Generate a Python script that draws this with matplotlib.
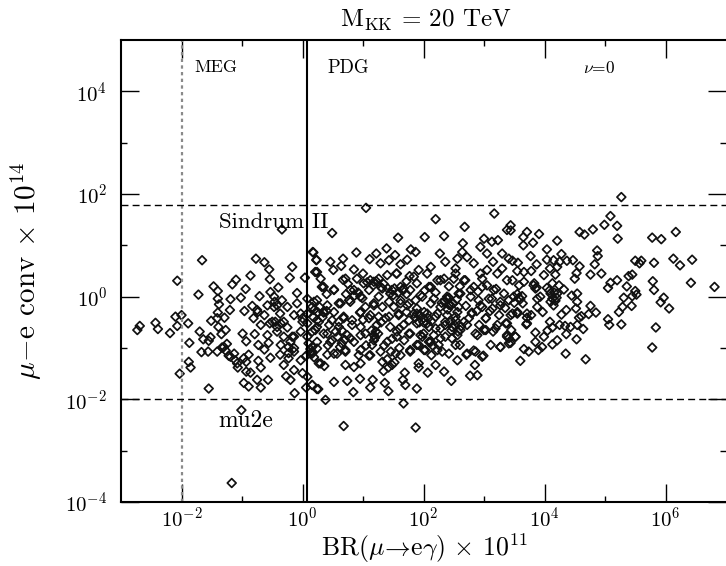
import numpy as np
import matplotlib
matplotlib.use('Agg')
import matplotlib.pyplot as plt
from matplotlib.ticker import FixedLocator, LogFormatterMathtext, NullFormatter

plt.rcParams['font.family'] = ['cmr10', 'DejaVu Serif']
plt.rcParams['mathtext.fontset'] = 'cm'
plt.rcParams['axes.formatter.use_mathtext'] = True
plt.rcParams['axes.unicode_minus'] = False

# (log10 BR, log10 conv)
left_points = [
(-2.73,-0.65),(-2.69,-0.57),(-2.43,-0.51),(-2.39,-0.63),(-2.19,-0.71),(-2.10,-0.39),(-2.07,-0.57),(-2.0,-0.36),
(-1.89,-0.52),(-2.07,0.31),(-1.66,0.71),(-1.72,0.04),(-1.70,-0.68),(-1.87,-0.90),(-2.03,-1.50),(-1.88,-1.27),
(-1.85,-1.38),(-1.55,-1.79),(-1.67,-1.08),(-1.56,-1.07),(-1.41,-1.07),(-1.64,-0.83),(-1.52,-0.79),(-1.55,-0.86),
(-1.51,-0.47),(-1.40,-0.31),(-1.41,-0.42),(-1.29,-0.41),(-1.39,-0.59),(-1.27,-0.65),(-1.34,-0.73),(-1.20,-0.26),
(-1.19,-0.05),(-1.38,-0.15),(-1.40,-0.04),(-1.40,0.11),(-1.47,0.20),(-1.16,0.24),(-1.10,0.33),(-0.94,0.15),
(-0.86,0.41),(-1.02,-0.02),(-0.96,-0.28),(-0.83,-0.18),(-0.71,0.01),(-0.77,0.74),(-0.63,0.67),(-0.55,0.53),
(-0.54,0.34),(-0.40,0.18),(-0.53,0.09),(-0.34,1.31),(-0.17,0.58),(-0.21,0.37),(0.04,0.37),(0.17,0.87),
(0.23,0.72),(0.24,0.48),(-0.09,0.07),(-1.25,-0.92),(-1.33,-0.99),(-1.27,-1.05),(-1.22,-1.15),(-1.13,-1.11),
(-1.11,-1.24),(-1.07,-1.38),(-0.93,-1.27),(-0.89,-1.13),(-0.93,-1.46),(-0.86,-1.48),(-0.97,-1.68),(-0.89,-1.75),
(-0.75,-1.62),(-0.69,-1.77),(-0.57,-1.62),(-0.69,-1.38),(-0.73,-1.25),(-0.53,-1.19),(-0.63,-1.03),(-0.99,-0.72),
(-0.93,-0.87),(-0.79,-0.73),(-0.73,-0.94),(-0.56,-0.90),(-0.58,-0.75),(-0.69,-0.55),(-0.81,-0.42),(-0.74,-0.30),
(-0.63,-0.36),(-0.54,-0.52),(-0.45,-0.49),(-0.47,-0.20),(-0.34,-0.07),(-0.46,-0.10),(-0.25,-0.20),(-0.37,-0.33),
(-0.14,-0.36),(0.0,-0.42),(0.08,-0.33),(-0.09,-0.13),(0.08,-0.04),(0.16,-0.20),(0.24,-0.46),(-0.36,-0.52),
(-0.25,-0.60),(-0.42,-0.68),(-0.31,-0.78),(-0.17,-0.78),(-0.03,-0.68),(0.08,-0.78),(0.21,-0.65),(-0.36,-0.94),
(-0.23,-0.98),(-0.14,-1.07),(-0.37,-1.13),(-0.23,-1.20),(-0.03,-1.24),(-0.31,-1.33),(-0.14,-1.43),(-0.27,-1.55),
(-0.20,-1.62),(0.0,-1.49),(0.16,-1.07),(0.10,-0.91),(0.27,-1.30),(0.08,-1.56),(0.16,-1.72),(0.24,-1.80),
(0.06,-1.77),(-0.13,-1.88),(-1.01,-2.21),(-1.17,-3.63),
]

mid_points = [
(0.68,-2.52),(1.87,-2.55),(1.05,1.73),(2.2,1.51),(3.17,1.62),(2.68,1.36),(0.49,1.24),(1.58,1.15),
(2.02,1.16),(2.34,1.18),(2.65,1.04),(3.0,1.13),(3.13,1.07),(3.23,1.10),(3.38,1.30),(0.18,0.86),
(0.23,0.71),(0.46,0.68),(0.67,0.74),(0.89,0.86),(0.51,0.52),(0.64,0.60),(0.21,0.48),(0.30,0.35),
(0.35,0.19),(0.52,0.14),(0.67,0.33),(0.85,0.53),(0.90,0.35),(1.22,0.84),(1.39,0.94),(1.11,0.73),
(1.29,0.65),(1.43,0.71),(1.53,0.81),(1.79,0.92),(1.87,0.87),(1.73,0.72),(1.62,0.63),(1.92,0.52),
(2.12,0.58),(2.27,0.84),(2.36,0.68),(2.56,0.74),(2.64,0.87),(2.72,0.77),(2.83,0.65),(2.53,0.55),
(3.05,0.84),(2.94,0.97),(3.30,0.84),(3.41,0.74),(3.15,0.68),(3.30,0.55),(3.22,0.45),(3.05,0.52),
(2.94,0.45),(3.38,0.32),(1.12,0.32),(1.26,0.35),(1.41,0.16),(1.55,0.45),(1.77,0.40),(1.62,0.19),
(1.78,0.13),(1.89,0.26),(2.09,0.19),(2.23,0.32),(2.34,0.35),(2.50,0.35),(2.69,0.32),(2.83,0.19),
(2.97,0.35),(3.16,0.13),(3.05,0.22),(3.33,0.06),(0.79,0.13),(0.96,0.0),(1.10,0.13),(1.26,0.0),
(1.45,0.06),(1.62,-0.07),(1.95,0.03),(2.12,-0.13),(2.39,0.0),(2.61,0.06),(2.78,0.0),(2.91,-0.07),
(3.08,-0.04),(3.27,-0.17),(3.41,-0.07),(0.24,-0.07),(0.41,-0.17),(0.60,-0.13),(0.79,-0.10),(1.04,-0.20),
(1.18,-0.17),(1.32,-0.20),(1.51,-0.20),(1.76,-0.13),(1.89,-0.23),(2.06,-0.33),(2.28,-0.20),(2.45,-0.17),
(2.58,-0.20),(2.80,-0.31),(2.97,-0.20),(3.14,-0.23),(0.19,-0.26),(0.35,-0.31),(0.52,-0.30),(0.68,-0.42),
(0.95,-0.31),(1.12,-0.36),(1.37,-0.42),(1.59,-0.36),(1.84,-0.33),(2.0,-0.42),(2.20,-0.39),(2.36,-0.49),
(2.53,-0.39),(2.67,-0.49),(3.03,-0.42),(3.25,-0.36),(3.38,-0.52),(0.27,-0.49),(0.44,-0.55),(0.60,-0.49),
(0.82,-0.55),(0.96,-0.59),(1.23,-0.55),(1.45,-0.59),(1.67,-0.55),(1.89,-0.52),(2.09,-0.59),(2.28,-0.62),
(2.47,-0.59),(2.89,-0.75),(3.03,-0.65),(3.15,-0.68),(3.38,-0.78),(0.16,-0.68),(0.35,-0.72),(0.55,-0.68),
(0.74,-0.75),(1.04,-0.72),(1.18,-0.75),(1.56,-0.68),(1.76,-0.72),(2.0,-0.72),(2.17,-0.75),(2.36,-0.78),
(2.56,-0.75),(0.24,-0.88),(0.49,-0.85),(0.65,-0.91),(0.85,-0.88),(1.15,-0.94),(1.48,-0.82),(1.68,-0.85),
(1.89,-0.94),(2.09,-0.88),(2.25,-0.94),(2.53,-0.94),(3.11,-0.94),(3.27,-0.98),(3.41,-0.81),(0.16,-1.11),
(0.41,-1.13),(0.57,-1.11),(0.71,-1.04),(0.93,-1.14),(1.10,-1.15),(1.29,-1.07),(1.54,-1.11),(1.62,-1.14),
(1.78,-1.07),(2.01,-1.04),(2.13,-1.14),(2.31,-1.07),(2.56,-1.24),(2.71,-1.13),(2.83,-1.05),(2.99,-1.15),
(0.30,-1.30),(0.36,-1.35),(0.71,-1.33),(0.85,-1.37),(0.96,-1.30),(1.32,-1.27),(1.48,-1.33),(1.92,-1.30),
(1.92,-1.38),(2.20,-1.33),(2.85,-1.33),(1.34,-1.45),(1.69,-1.48),(2.07,-1.48),(2.34,-1.46),(2.77,-1.54),
(2.89,-1.53),(2.46,-1.64),(0.52,-1.66),(0.74,-1.64),(0.95,-1.60),(1.16,-1.62),(1.36,-1.68),(1.66,-1.62),
(1.70,-1.72),(1.89,-1.79),(1.12,-1.77),(1.42,-1.84),(0.84,-1.86),(0.26,-1.80),(0.16,-1.72),(0.38,-2.01),
(1.67,-2.08),
]

dense_points = [
(0.32,0.19),(0.52,0.13),(0.71,0.35),(0.85,0.13),(0.96,0.0),(1.01,0.26),(1.18,0.29),(1.32,0.16),
(1.48,0.13),(1.56,0.45),(1.67,0.16),(1.84,0.39),(0.63,-0.13),(0.77,-0.07),(0.96,-0.30),(1.18,-0.13),
(1.43,-0.10),(1.62,-0.13),(1.73,-0.17),(1.87,-0.07),(0.19,-0.10),(0.35,-0.30),(0.49,-0.46),(0.68,-0.39),
(0.82,-0.46),(1.10,-0.42),(1.26,-0.39),(1.43,-0.39),(1.59,-0.33),(1.76,-0.46),(0.24,-0.59),(0.41,-0.72),
(0.60,-0.59),(0.79,-0.81),(0.96,-0.75),(1.21,-0.68),(1.18,-0.85),(1.40,-0.88),(1.56,-0.78),(1.78,-0.72),
(0.24,-1.01),(0.46,-0.88),(0.52,-1.11),(0.71,-1.07),(0.96,-1.04),(1.12,-1.14),(1.46,-1.07),(1.78,-1.04),
(1.92,-0.94),(1.89,-0.33),(2.06,0.45),(2.12,0.19),(2.28,0.32),(2.53,0.45),(2.67,0.32),(2.78,0.13),
(2.97,0.19),(3.13,-0.04),(3.27,-0.10),(1.98,0.0),(2.17,-0.04),(2.39,-0.04),(2.58,0.06),(2.80,-0.33),
(2.94,-0.17),(2.01,-0.30),(2.23,-0.33),(2.39,-0.36),(2.56,-0.30),(2.72,-0.55),(3.03,-0.42),(2.06,-0.52),
(2.20,-0.62),(2.36,-0.55),(2.53,-0.46),(2.61,-0.65),(1.98,-0.78),(2.12,-0.88),(2.28,-0.81),(2.47,-0.81),
(2.60,-0.94),(2.86,-0.72),(3.0,-0.65),(3.19,-0.62),(3.36,-0.52),(3.47,-0.33),(3.55,-0.30),(2.86,-1.07),
(2.72,-1.11),(2.97,-1.17),(3.27,-0.98),(3.38,-0.75),(3.41,-0.91),(3.52,-0.78),(3.71,-0.33),(3.71,-0.52),
(2.03,-1.04),(2.23,-1.04),(2.42,-1.11),(-0.75,-0.26),(-0.58,-0.17),(-0.47,0.0),(-0.42,-0.17),(-0.50,-0.49),
(-0.42,-0.59),(-0.31,-0.49),(-0.14,-0.78),(-0.20,-0.88),(-0.23,-1.10),(-0.14,-1.0),(0.13,-1.10),(0.16,-0.98),
(0.0,-0.49),(0.08,-0.52),(-0.03,-0.33),(-1.30,-0.98),(-1.19,-1.17),(-1.08,-1.30),(-0.97,-1.20),
(0.72,0.05),(0.86,0.02),(0.92,0.08),(0.99,-0.03),(1.07,0.28),(1.17,0.22),(1.22,0.30),(1.30,0.18),
(1.34,0.25),(1.52,0.16),(1.58,0.08),(1.66,0.12),(1.72,0.05),(1.50,0.03),(1.86,-0.40),(1.94,-0.36),
(2.0,-0.50),(2.08,-0.42),(2.13,-0.48),(1.93,-0.50),(2.35,-0.08),(2.42,-0.02),(2.49,-0.13),(2.55,-0.05),
(2.42,-0.16),(2.30,-0.12),(2.46,-0.66),(2.52,-0.56),(2.57,-0.68),(2.62,-0.58),(2.44,-0.50),(1.14,-0.66),
(1.20,-0.80),(1.25,-0.72),(0.58,-0.78),(0.65,-0.66),(0.70,-0.84),(0.62,-0.98),(0.25,-0.30),(0.33,-0.40),
(0.28,-0.20),(0.40,-0.28),(0.13,-1.02),(0.19,-1.18),(0.06,-1.15),(1.40,-1.22),(1.52,-1.28),(1.42,-1.38),
(1.00,-0.45),(1.30,-0.50),(1.60,-0.62),(1.72,-0.30),(1.05,-0.95),(1.35,-0.95),(1.60,-1.00),(1.95,-0.75),
(2.15,-0.95),(2.40,-0.25),(2.70,-0.18),(2.75,-0.42),(2.92,-0.55),(2.88,-0.28),(3.10,-0.28),(3.22,-0.55),
(3.35,-0.22),(3.20,0.15),(2.90,0.10),(2.60,0.20),(2.42,0.20),(2.20,0.08),(2.02,0.12),(1.72,0.30),
(1.40,0.42),(1.00,0.45),(0.75,0.25),(0.40,0.05),(0.18,-0.40),(0.42,-0.95),(3.83,0.26),(3.87,0.18),
(4.08,0.12),(4.16,0.08),(4.20,-0.02),(4.10,-0.10),(4.18,-0.08),(3.55,0.05),(3.60,-0.05),(3.50,-0.12),
(3.58,-0.02),
]

right_points = [
(5.27,1.94),(5.09,1.57),(4.99,1.40),(5.20,1.38),(4.80,1.31),(4.66,1.21),(4.58,1.26),(5.21,1.13),
(4.21,1.09),(3.91,1.22),(3.71,1.26),(3.65,1.16),(3.65,1.0),(3.81,1.05),(3.44,1.39),(3.44,1.29),
(4.04,0.92),(3.77,0.79),(4.28,0.83),(4.87,0.90),(4.88,0.79),(4.83,0.63),(4.76,0.43),(4.94,0.45),
(5.78,1.15),(5.93,1.12),(6.17,1.26),(6.13,0.74),(6.24,0.61),(6.44,0.72),(5.81,0.66),(5.50,0.70),
(5.60,0.70),(5.57,0.65),(5.45,0.43),(5.39,0.40),(5.20,0.32),(5.09,0.27),(5.05,0.17),(5.36,0.20),
(5.79,0.30),(5.81,0.13),(6.42,0.27),(6.81,0.19),(5.50,0.11),(5.52,0.04),(5.45,0.01),(5.31,-0.02),
(5.29,-0.20),(5.44,-0.18),(5.23,-0.30),(5.97,-0.02),(5.92,-0.11),(6.06,-0.23),(5.05,-0.44),(5.07,-0.55),
(5.27,-0.54),(5.84,-0.60),(5.78,-0.99),(4.85,-0.31),(4.76,-0.18),(4.73,-0.34),(4.61,-0.38),(4.57,-0.41),
(4.52,-0.23),(4.54,-0.10),(4.54,0.06),(4.45,0.02),(4.36,-0.26),(4.28,-0.35),(4.50,0.35),(4.53,0.46),
(4.58,0.59),(4.47,0.71),(4.37,0.70),(4.25,0.68),(4.15,0.71),(4.04,0.72),(4.21,0.58),(4.18,0.43),
(4.09,0.55),(3.99,0.42),(3.87,0.63),(3.78,0.50),(3.66,0.48),(3.56,0.66),(3.47,0.70),(3.55,0.50),
(3.47,0.32),(3.58,0.22),(3.66,0.29),(3.82,0.22),(3.85,0.16),(4.04,0.17),(4.13,0.26),(4.24,0.22),
(4.32,0.14),(4.10,0.06),(4.21,0.06),(4.13,-0.04),(4.15,-0.17),(3.93,0.0),(3.88,-0.04),(3.88,-0.20),
(3.97,-0.30),(3.63,0.01),(3.49,0.0),(3.64,-0.13),(3.55,-0.33),(3.44,-0.36),(3.78,-0.36),(3.71,-0.41),
(3.70,-0.54),(4.09,-0.49),(4.25,-0.55),(4.34,-0.57),(4.43,-0.59),(4.54,-0.55),(4.64,-0.63),(4.13,-0.60),
(4.05,-0.66),(3.99,-0.78),(3.85,-0.70),(3.85,-0.88),(3.52,-0.78),(3.45,-0.65),(3.44,-0.90),(4.36,-0.73),
(4.53,-0.83),(4.21,-0.85),(4.13,-0.93),(3.96,-0.98),(3.90,-1.04),(3.74,-1.07),(3.66,-1.02),(4.35,-1.11),
(4.68,-1.22),(3.60,-1.25),
]

meg_limit = 1e-2
pdg_limit = 1.2
sindrum_limit = 60
mu2e_limit = 1e-2

pts = np.array(left_points + mid_points + dense_points + right_points)
br = 10**pts[:, 0]
conv = 10**pts[:, 1]

f1 = plt.figure(figsize=(7.26, 5.66), dpi=100)
ax1 = f1.add_axes([121/726, 1-502/566, 1-121/726, 462/566])
ax1.set_xscale('log')
ax1.set_yscale('log')

ax1.scatter(br, conv, s=20, marker='D', facecolors='none', edgecolors='#111111', linewidths=1.25)

ax1.axvline(meg_limit, color='#8a8a8a', linewidth=1.6, linestyle=(0, (1.5, 1.5)))
ax1.axvline(pdg_limit, color='black', linewidth=1.5)
ax1.axhline(sindrum_limit, color='black', linewidth=1.0, linestyle=(0, (5, 3)))
ax1.axhline(mu2e_limit, color='black', linewidth=1.0, linestyle=(0, (5, 3)))

ax1.set_xlim(1e-3, 1e7)
ax1.set_ylim(1e-4, 1e5)

ax1.text(1.64e-2, 2.9e4, 'MEG', fontsize=13, va='center', ha='left')
ax1.text(2.6, 2.9e4, 'PDG', fontsize=13.5, va='center', ha='left')
ax1.text(4.4e4, 2.9e4, r'$\nu$=0', fontsize=12.5, va='center', ha='left')
ax1.text(4.1e-2, 28, 'Sindrum II', fontsize=16.5, va='center', ha='left')
ax1.text(4.0e-2, 3.8e-3, 'mu2e', fontsize=17, va='center', ha='left')

ax1.xaxis.set_major_locator(FixedLocator([1e-2, 1, 1e2, 1e4, 1e6]))
ax1.xaxis.set_minor_locator(FixedLocator([1e-1, 1e1, 1e3, 1e5]))
ax1.yaxis.set_major_locator(FixedLocator([1e-4, 1e-2, 1, 1e2, 1e4]))
ax1.yaxis.set_minor_locator(FixedLocator([1e-3, 1e-1, 1e1, 1e3]))
ax1.xaxis.set_major_formatter(LogFormatterMathtext())
ax1.yaxis.set_major_formatter(LogFormatterMathtext())
ax1.xaxis.set_minor_formatter(NullFormatter())
ax1.yaxis.set_minor_formatter(NullFormatter())
ax1.tick_params(which='major', direction='in', top=True, right=True, length=13, width=1.0, labelsize=15)
ax1.tick_params(which='minor', direction='in', top=True, right=True, length=4.5, width=1.0)
ax1.tick_params(axis='x', which='major', pad=3)
ax1.tick_params(axis='y', which='major', pad=10)

for s in ['left', 'top', 'bottom']:
    ax1.spines[s].set_linewidth(1.5)
ax1.spines['right'].set_visible(False)

f1.text(426/726, 1-20/566, r'$\mathrm{M_{KK}}$ = 20 TeV', fontsize=18, ha='center', va='center')
f1.text(424/726, 1-548/566, r'BR($\mu\!\rightarrow\!$e$\gamma$) $\times$ 10$^{11}$', fontsize=18.5, ha='center', va='center')
f1.text(26/726, 1-271/566, r'$\mu\!-\!$e conv $\times$ 10$^{14}$', fontsize=21, ha='center', va='center', rotation=90)

f1.savefig('out.png', dpi=100)
